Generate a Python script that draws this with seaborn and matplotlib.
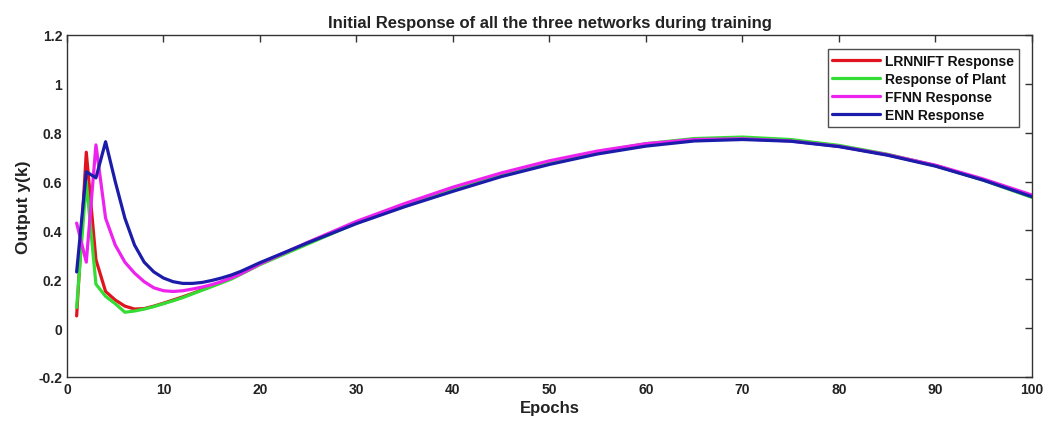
import matplotlib
matplotlib.use("Agg")
import matplotlib.pyplot as plt
from matplotlib.ticker import FormatStrFormatter, MultipleLocator
import numpy as np
import pandas as pd
import seaborn as sns

# Epochs at which the responses were recorded
epochs = list(range(1, 21)) + list(range(25, 101, 5))

lrnnift = [0.05, 0.72, 0.28, 0.15, 0.115, 0.09, 0.078, 0.08, 0.09, 0.102,
           0.115, 0.128, 0.142, 0.157, 0.172, 0.188, 0.204, 0.222, 0.242, 0.262,
           0.35, 0.432, 0.503, 0.568, 0.628, 0.678, 0.72, 0.751, 0.771, 0.777,
           0.768, 0.745, 0.71, 0.665, 0.607, 0.54]

plant = [0.085, 0.6, 0.18, 0.13, 0.10, 0.065, 0.07, 0.078, 0.088, 0.10,
         0.112, 0.125, 0.14, 0.155, 0.17, 0.185, 0.20, 0.22, 0.24, 0.26,
         0.345, 0.43, 0.50, 0.565, 0.627, 0.68, 0.722, 0.755, 0.776, 0.782,
         0.772, 0.748, 0.712, 0.665, 0.605, 0.535]

ffnn = [0.43, 0.27, 0.75, 0.45, 0.34, 0.27, 0.225, 0.19, 0.165, 0.153,
        0.15, 0.153, 0.16, 0.168, 0.178, 0.19, 0.205, 0.222, 0.242, 0.263,
        0.352, 0.437, 0.51, 0.577, 0.635, 0.685, 0.725, 0.755, 0.772, 0.775,
        0.766, 0.744, 0.71, 0.667, 0.61, 0.545]

enn = [0.23, 0.64, 0.615, 0.763, 0.6, 0.45, 0.34, 0.27, 0.23, 0.205,
       0.19, 0.183, 0.183, 0.187, 0.195, 0.205, 0.217, 0.232, 0.25, 0.268,
       0.35, 0.428, 0.497, 0.56, 0.62, 0.67, 0.713, 0.745, 0.766, 0.772,
       0.765, 0.743, 0.708, 0.663, 0.605, 0.538]

series_names = ["LRNNIFT Response", "Response of Plant", "FFNN Response", "ENN Response"]
series_values = [lrnnift, plant, ffnn, enn]
colors = ["#e0141e", "#33dd33", "#ee22ee", "#1c1caa"]

frames = []
for name, vals in zip(series_names, series_values):
    frames.append(pd.DataFrame({"Epochs": epochs, "Output": vals, "Series": name}))
df = pd.concat(frames, ignore_index=True)

sns.set_style("white")
plt.rcParams["font.family"] = ["Liberation Sans", "DejaVu Sans"]

fig = plt.figure(figsize=(10.5, 4.27), dpi=100)
ax = fig.add_axes([0.0638, 0.1148, 0.919, 0.801])

sns.lineplot(data=df, x="Epochs", y="Output", hue="Series",
             hue_order=series_names, palette=colors, linewidth=2.3, ax=ax)

ax.set_xlim(0, 100)
ax.set_ylim(-0.2, 1.2)
ax.xaxis.set_major_locator(MultipleLocator(10))
ax.yaxis.set_major_locator(MultipleLocator(0.2))
ax.yaxis.set_major_formatter(FormatStrFormatter("%g"))
ax.tick_params(direction="in", top=True, right=True, length=5, width=1,
               color="#333333", labelsize=10, labelcolor="#222222")
for lbl in ax.get_xticklabels() + ax.get_yticklabels():
    lbl.set_fontweight("bold")
for sp in ax.spines.values():
    sp.set_color("#333333")
    sp.set_linewidth(1)

ax.set_title("Initial Response of all the three networks during training",
             fontsize=12, fontweight="bold", color="#222222", pad=6)
ax.set_xlabel("Epochs", fontsize=12, fontweight="bold", color="#222222", labelpad=3)
ax.set_ylabel("Output y(k)", fontsize=12.5, fontweight="bold", color="#222222", labelpad=5)

leg = ax.legend(loc="upper right", bbox_to_anchor=(0.991, 0.972), fontsize=10,
                frameon=True, fancybox=False, edgecolor="#222222",
                handlelength=3.4, handletextpad=0.4, borderpad=0.35,
                labelspacing=0.3, borderaxespad=0.3)
leg.get_frame().set_linewidth(1)
for t in leg.get_texts():
    t.set_fontweight("bold")
    t.set_color("#111111")
for h in leg.get_lines():
    h.set_linewidth(2.3)

fig.savefig("out.png", dpi=100)
